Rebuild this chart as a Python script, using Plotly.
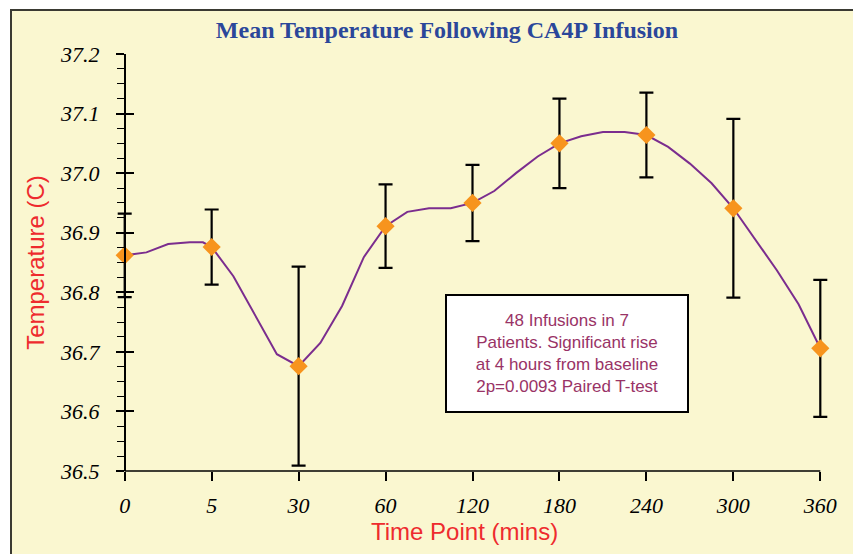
import plotly.graph_objects as go

# ---- data ----
time_labels = ["0", "5", "30", "60", "120", "180", "240", "300", "360"]
mean_temp = [36.862, 36.876, 36.676, 36.911, 36.950, 37.050, 37.064, 36.941, 36.706]
err_temp = [0.070, 0.063, 0.167, 0.070, 0.064, 0.075, 0.071, 0.150, 0.115]

# smoothed trend line, sampled every quarter of a category step
trend_pos = [0, 0.25, 0.5, 0.75, 0.9, 1.0, 1.25, 1.5, 1.75, 2.0, 2.25, 2.5, 2.75, 3.0,
             3.25, 3.5, 3.75, 4.0, 4.25, 4.5, 4.75, 5.0, 5.25, 5.5, 5.75, 6.0,
             6.25, 6.5, 6.75, 7.0, 7.25, 7.5, 7.75, 8.0]
trend_temp = [36.862, 36.867, 36.881, 36.884, 36.884, 36.876, 36.827, 36.762, 36.696, 36.676,
              36.715, 36.777, 36.859, 36.911, 36.935, 36.941, 36.941, 36.950, 36.970, 37.000,
              37.028, 37.050, 37.062, 37.069, 37.069, 37.064, 37.044, 37.016, 36.983, 36.941,
              36.890, 36.837, 36.780, 36.706]

note_text = ("48 Infusions in 7<br>Patients. Significant rise<br>"
             "at 4 hours from baseline<br>2p=0.0093 Paired T-test")

W, H = 853, 554
PAD = 0.1                      # category padding so end error-bar caps are not clipped
XMIN, XMAX = -PAD, 8 + PAD
L, R, T, B = 116, 829, 54, 471

x_idx = list(range(len(time_labels)))

fig = go.Figure()
fig.add_trace(go.Scatter(
    x=trend_pos, y=trend_temp, mode="lines",
    line=dict(color="#7B2D8E", width=2), hoverinfo="skip", showlegend=False))
fig.add_trace(go.Scatter(
    x=x_idx, y=mean_temp, mode="markers",
    marker=dict(symbol="diamond", size=14, color="#F7941D"),
    error_y=dict(type="data", array=err_temp, visible=True, color="black",
                 thickness=2.2, width=7),
    cliponaxis=False, showlegend=False))
# invisible trace for the secondary (inside-tick) y axis
fig.add_trace(go.Scatter(x=[0], y=[36.5], yaxis="y2", mode="markers",
                         marker=dict(opacity=0), hoverinfo="skip", showlegend=False))

def px_x(p):
    return (p - L) / (R - L)

def px_y(p):
    return (B - p) / (B - T)

yaxis_pos = PAD / (XMAX - XMIN)

serif = "Liberation Serif, Times New Roman, serif"
sans = "Liberation Sans, Arial, sans-serif"

fig.update_layout(
    width=W, height=H,
    margin=dict(l=L, r=W - R, t=T, b=H - B),
    paper_bgcolor="white",
    plot_bgcolor="rgba(0,0,0,0)",
    title=dict(text="<b>Mean Temperature Following CA4P Infusion</b>",
               font=dict(family=serif, size=24, color="#2B479A"),
               xref="container", yref="container",
               x=447 / W, y=1 - 30 / H, xanchor="center", yanchor="middle"),
    xaxis=dict(
        range=[XMIN, XMAX], tickmode="array", tickvals=x_idx, ticktext=time_labels,
        showgrid=False, zeroline=False, showline=False,
        ticks="outside", ticklen=9, tickwidth=1.5, tickcolor="black",
        tickfont=dict(family=serif, size=22, color="black", style="italic"),
        ticklabelstandoff=6),
    yaxis=dict(
        range=[36.5, 37.2], tickmode="linear", tick0=36.5, dtick=0.1, tickformat=".1f",
        anchor="free", position=yaxis_pos,
        showgrid=False, zeroline=False, showline=True, linecolor="black", linewidth=1.5,
        ticks="outside", ticklen=8, tickwidth=1.5, tickcolor="black",
        minor=dict(dtick=0.025, tick0=36.5, ticks="outside", ticklen=7, tickwidth=1.2,
                   tickcolor="black", showgrid=False),
        tickfont=dict(family=serif, size=22, color="black", style="italic"),
        ticklabelstandoff=12,
        title=dict(text="Temperature (C)", font=dict(family=sans, size=24, color="#EE2B2E"),
                   standoff=8)),
    yaxis2=dict(
        range=[36.5, 37.2], overlaying="y", side="left", anchor="free", position=yaxis_pos,
        tickmode="linear", tick0=36.5, dtick=0.1, ticks="inside", ticklen=8, tickwidth=1.5,
        tickcolor="black", showticklabels=False, showgrid=False, zeroline=False,
        showline=False),
    shapes=[
        dict(type="rect", xref="paper", yref="paper", layer="below",
             x0=px_x(11), x1=px_x(870), y0=px_y(10), y1=px_y(570),
             fillcolor="#FAF7D0", line=dict(color="#3A3A32", width=2)),
        # x axis line from the first to the last category
        dict(type="line", xref="x", yref="paper", x0=0, x1=8, y0=0, y1=0,
             line=dict(color="black", width=1.5)),
    ],
    annotations=[
        dict(text=note_text, xref="paper", yref="paper",
             x=px_x(566.7), y=px_y(353.5), xanchor="center", yanchor="middle",
             showarrow=False, align="center",
             font=dict(family=sans, size=17, color="#993366"),
             bgcolor="white", bordercolor="black", borderwidth=2,
             borderpad=4, width=232, height=107),
        dict(text="Time Point (mins)", xref="paper", yref="paper",
             x=px_x(464), y=px_y(531), xanchor="center", yanchor="middle",
             showarrow=False, font=dict(family=sans, size=24, color="#EE2B2E")),
    ],
)

fig.write_html("out.html")
